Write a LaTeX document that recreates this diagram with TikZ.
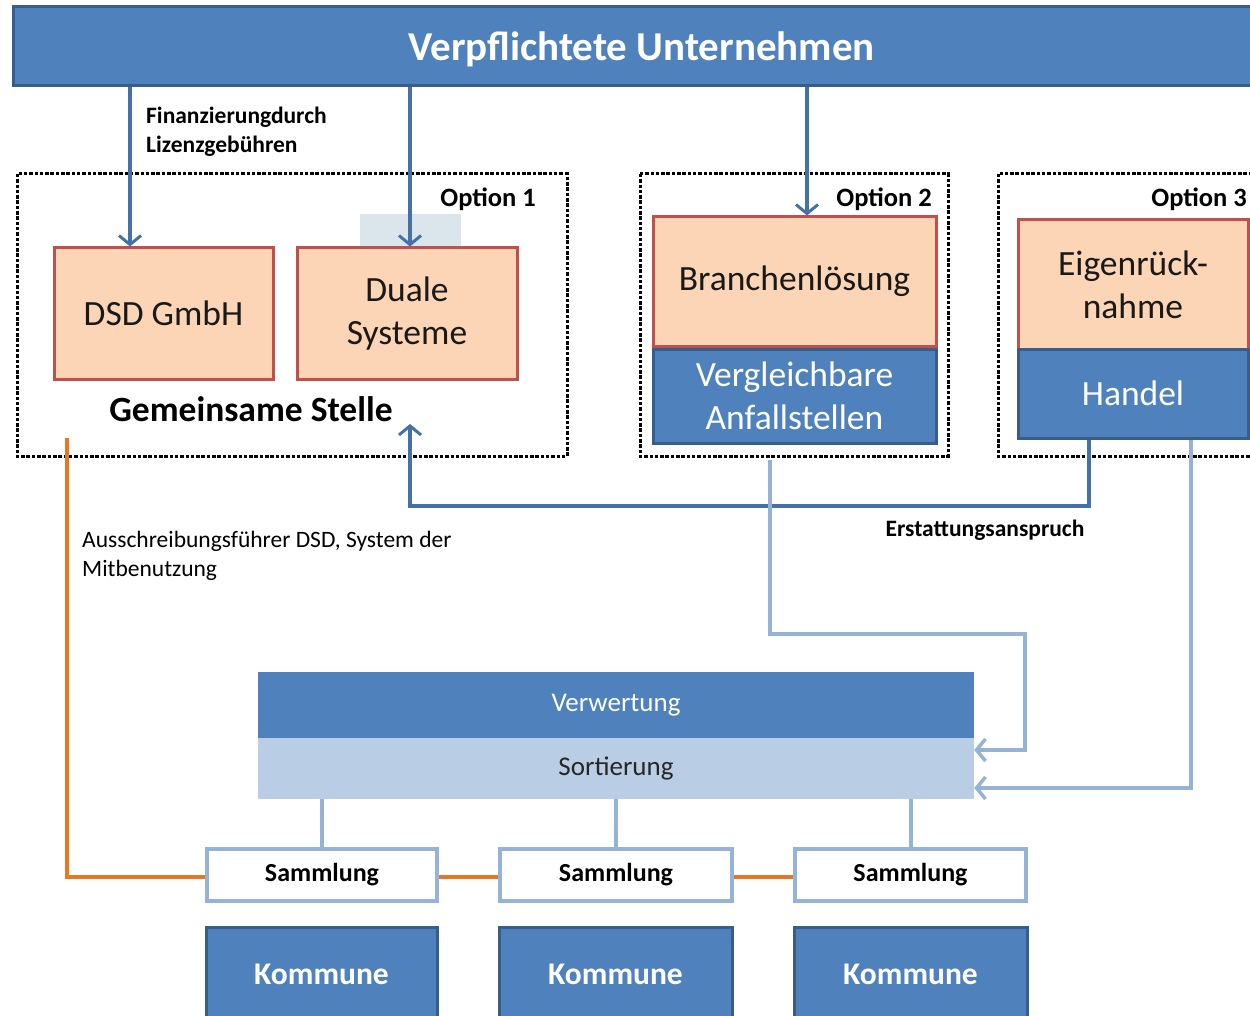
\documentclass[tikz,border=0pt]{standalone}
\usepackage{fontspec}
\setmainfont{Carlito}
\usetikzlibrary{arrows.meta}
\definecolor{bfill}{HTML}{4F81BD}
\definecolor{bline}{HTML}{385D8A}
\definecolor{pfill}{HTML}{FBD5B5}
\definecolor{pline}{HTML}{C0504D}
\definecolor{lblue}{HTML}{95B3D7}
\definecolor{sfill}{HTML}{B9CDE5}
\definecolor{oline}{HTML}{E87722}
\definecolor{darr}{HTML}{4472A8}
\definecolor{duashade}{HTML}{DAE6EC}
\tikzset{
  bluebox/.style={draw=bline, line width=3pt, fill=bfill, text=white, align=center, inner sep=0pt},
  peachbox/.style={draw=pline, line width=3pt, fill=pfill, text=black!90, align=center, inner sep=0pt},
  sammbox/.style={draw=lblue, line width=4pt, fill=white, minimum height=52pt, inner sep=0pt, font=\fontsize{26}{30}\selectfont\bfseries},
  kommbox/.style={bluebox, minimum height=96pt, font=\fontsize{31.5}{36}\selectfont\bfseries},
  optbox/.style={draw=black, line width=3pt, dash pattern=on 3.5pt off 1.8pt},
  darrow/.style={draw=darr, line width=3.5pt, -{Straight Barb[length=9pt,width=22pt,line width=3pt]}},
  lbarrow/.style={draw=lblue, line width=4pt, -{Straight Barb[length=9pt,width=22pt,line width=3.5pt]}},
  lbline/.style={draw=lblue, line width=4pt},
  oraline/.style={draw=oline, line width=4pt},
  boxfont/.style={font=\fontsize{35.5}{43}\selectfont},
  optlabel/.style={font=\fontsize{26.5}{30}\selectfont\bfseries, inner sep=0pt},
  smalllabel/.style={font=\fontsize{23.5}{29}\selectfont\bfseries, align=left, inner sep=0pt},
}
\begin{document}
\begin{tikzpicture}[x=1pt,y=-1pt]
\useasboundingbox (0,0) rectangle (1250,1016);
\clip (0,0) rectangle (1250,1016);

% option frames
\draw[optbox] (17,174) rectangle (567,456);
\draw[optbox] (640,174) rectangle (948,456);
\draw[optbox] (998,174) rectangle (1275,456);

% light shade behind Duale Systeme top
\fill[duashade] (360,214) rectangle (461,248);

% title
\node[bluebox, minimum width=1257pt, minimum height=79pt] (title) at (641.5,46.5) {};
\node[text=white, inner sep=0pt, font=\fontsize{41}{48}\selectfont\bfseries] (titletext) at ([yshift=-3pt]title.center) {Verpflichtete Unternehmen};

% option 1
\node[peachbox, boxfont, minimum width=219pt, minimum height=131pt] (dsd) at (163.5,313.5) {DSD GmbH};
\node[peachbox, boxfont, minimum width=220pt, minimum height=131pt] (duale) at (407,313.5) {Duale\\Systeme};
\node[font=\fontsize{35.5}{40}\selectfont\bfseries, inner sep=0pt] (gs) at (251,409) {Gemeinsame Stelle};
\node[optlabel, anchor=east] (o1) at (536,199) {Option 1};

% option 2
\node[peachbox, boxfont, minimum width=283pt, minimum height=129pt] (branch) at (794.5,281.5) {Branchenlösung};
\node[bluebox, font=\fontsize{35.5}{43}\selectfont, minimum width=283pt, minimum height=94pt] (vergl) at (794.5,396) {Vergleichbare\\Anfallstellen};
\node[optlabel, anchor=east] (o2) at (932,199) {Option 2};

% option 3
\node[peachbox, boxfont, minimum width=230pt, minimum height=129pt] (eigen) at (1133,284.5) {Eigenrück-\\nahme};
\node[bluebox, boxfont, minimum width=230pt, minimum height=89pt] (handel) at (1133,393.5) {Handel};
\node[optlabel, anchor=east] (o3) at (1247,199) {Option 3};

% labels
\node[smalllabel, anchor=north west] (fin) at (146,107) {Finanzierungdurch\\Lizenzgebühren};
\node[smalllabel, anchor=center] (erst) at (985,530) {Erstattungsanspruch};
\node[font=\fontsize{23.5}{29}\selectfont, align=left, inner sep=0pt, anchor=north west] (aus) at (82,531) {Ausschreibungsführer DSD, System der\\Mitbenutzung};

% verwertung / sortierung
\node[fill=bfill, text=white, minimum width=716pt, minimum height=66pt, inner sep=0pt, font=\fontsize{27}{30}\selectfont] (verw) at (616,705) {Verwertung};
\node[fill=sfill, text=black!85, minimum width=716pt, minimum height=61pt, inner sep=0pt, font=\fontsize{27}{30}\selectfont] (sort) at (616,768.5) {Sortierung};

% sammlung
\node[sammbox, minimum width=230pt] (s1) at (322,875) {Sammlung};
\node[sammbox, minimum width=232pt] (s2) at (616,875) {Sammlung};
\node[sammbox, minimum width=231pt] (s3) at (910.5,875) {Sammlung};

% kommune
\node[kommbox, minimum width=231pt] (k1) at (321.5,975) {\raisebox{2pt}{Kommune}};
\node[kommbox, minimum width=233pt] (k2) at (615.5,975) {\raisebox{2pt}{Kommune}};
\node[kommbox, minimum width=233pt] (k3) at (910.5,975) {\raisebox{2pt}{Kommune}};

% connectors from title
\draw[darrow] (title.south -| 130,0) -- (dsd.north -| 130,0);
\draw[darrow] (title.south -| 410,0) -- (duale.north -| 410,0);
\draw[darrow] (title.south -| 807,0) -- (branch.north -| 807,0);

% Erstattungsanspruch
\coordinate (gsin) at (410,424);
\draw[darrow] (handel.south -| 1089,0) -- (1089,506) -- (410,506) -- (gsin);

% light blue flows to Sortierung
\coordinate (vstart) at (770,460);
\draw[lbarrow] (vstart) -- (770,634) -- (1025,634) -- (1025,750) -- (sort.east |- 0,750);
\draw[lbarrow] (handel.south -| 1191,0) -- (1191,788) -- (sort.east |- 0,788);

% sortierung to sammlung
\draw[lbline] (sort.south -| s1.north) -- (s1.north);
\draw[lbline] (sort.south -| s2.north) -- (s2.north);
\draw[lbline] (sort.south -| s3.north) -- (s3.north);

% orange
\coordinate (ostart) at (67,438);
\draw[oraline] (ostart) -- (67,877) -- (s1.west |- 0,877);
\draw[oraline] (s1.east |- 0,877) -- (s2.west |- 0,877);
\draw[oraline] (s2.east |- 0,877) -- (s3.west |- 0,877);
\end{tikzpicture}
\end{document}
